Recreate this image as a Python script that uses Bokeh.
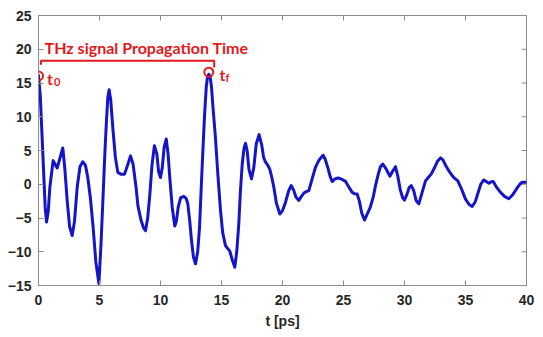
import math
from bokeh.plotting import figure
from bokeh.models import SingleIntervalTicker, Range1d
from bokeh.core.properties import value
from bokeh.embed import file_html
from bokeh.resources import INLINE

# ---- data ----
t_ps = [0.0, 0.15, 0.38, 0.55, 0.66, 0.8, 0.93, 1.2, 1.38, 1.53, 1.99, 2.15, 2.35, 2.55, 2.76,
        2.95, 3.17, 3.4, 3.63, 3.85, 4.04, 4.25, 4.48, 4.7, 4.95, 5.12, 5.3, 5.45, 5.57, 5.68,
        5.79, 5.92, 6.09, 6.3, 6.5, 6.75, 7.05, 7.3, 7.54, 7.75, 8.0, 8.15, 8.4, 8.6, 8.77,
        8.95, 9.13, 9.3, 9.5, 9.7, 9.85, 10.0, 10.15, 10.3, 10.47, 10.62, 10.76, 10.96, 11.17,
        11.3, 11.45, 11.65, 11.91, 12.1, 12.24, 12.4, 12.54, 12.7, 12.87, 13.05, 13.2, 13.35,
        13.5, 13.62, 13.75, 13.86, 13.96, 14.07, 14.18, 14.32, 14.5, 14.7, 14.92, 15.1, 15.33,
        15.5, 15.68, 15.9, 16.09, 16.25, 16.42, 16.55, 16.7, 16.85, 16.97, 17.1, 17.25, 17.46,
        17.65, 17.85, 18.08, 18.3, 18.45, 18.6, 18.8, 18.96, 19.1, 19.29, 19.5, 19.78, 20.0,
        20.25, 20.5, 20.71, 20.9, 21.1, 21.34, 21.55, 21.75, 21.95, 22.16, 22.4, 22.7, 23.0,
        23.33, 23.5, 23.71, 23.9, 24.07, 24.3, 24.54, 24.85, 25.16, 25.4, 25.71, 25.9, 26.12,
        26.3, 26.5, 26.72, 26.95, 27.2, 27.45, 27.6, 27.85, 28.03, 28.22, 28.45, 28.8, 29.05,
        29.26, 29.45, 29.67, 29.85, 30.0, 30.2, 30.38, 30.55, 30.75, 30.95, 31.17, 31.4, 31.72,
        32.0, 32.19, 32.45, 32.7, 32.95, 33.15, 33.4, 33.63, 33.9, 34.1, 34.37, 34.65, 35.0,
        35.3, 35.55, 35.8, 36.0, 36.25, 36.5, 36.7, 36.91, 37.1, 37.27, 37.5, 37.87, 38.2,
        38.55, 38.85, 39.18, 39.45, 39.65, 40.0]
signal = [16.1, 13.0, 3.5, -3.5, -5.6, -4.0, -0.45, 3.5, 2.9, 2.4, 5.37, 2.5, -2.4, -6.3, -7.6,
          -5.5, -0.45, 2.6, 3.34, 2.8, 1.0, -2.0, -6.4, -11.5, -14.7, -9.0, -1.45, 5.0, 9.4, 12.8,
          14.0, 12.5, 8.4, 4.0, 1.76, 1.5, 1.5, 2.8, 4.2, 3.0, -0.5, -3.2, -5.3, -6.4, -6.9,
          -5.0, -1.45, 2.8, 5.7, 4.5, 1.8, 1.0, 2.5, 5.5, 6.7, 4.5, 1.0, -3.4, -6.2,
          -5.5, -3.4, -2.0, -1.8, -2.1, -2.9, -5.5, -8.3, -10.8, -11.8, -10.0, -6.4, 0.0,
          6.0, 10.5, 14.4, 16.0, 16.3, 15.9, 14.4, 11.0, 7.0, 1.5, -3.9, -7.2, -9.1,
          -9.5, -9.9, -11.3, -12.3, -10.0, -5.8, -1.0, 3.0, 5.4, 6.05, 5.0, 2.2, 0.8,
          2.5, 6.0, 7.35, 5.8, 4.0, 3.3, 2.8, 2.2, 1.2, -0.45, -2.8, -4.4, -3.9,
          -2.65, -1.0, -0.2, -0.8, -1.9, -2.4, -1.8, -1.3, -1.1, -0.95, 0.6, 2.5, 3.6,
          4.3, 3.7, 2.5, 1.2, 0.4, 0.8, 0.93, 0.75, 0.43, -0.3, -1.2, -1.4, -1.45,
          -2.5, -4.3, -5.3, -4.4, -3.4, -1.8, -0.4, 1.5, 2.6, 3.0, 2.4, 1.2, 2.0,
          2.6, 1.2, -0.95, -2.0, -2.35, -1.5, -0.5, -0.2, -0.9, -2.4, -2.9, -1.5, 0.5,
          1.1, 1.5, 2.4, 3.4, 3.9, 3.6, 2.7, 2.0, 1.3, 0.9, 0.5, -0.6, -2.2,
          -3.0, -3.3, -2.6, -1.45, 0.0, 0.63, 0.4, 0.15, 0.35, 0.4, -0.3, -1.2, -1.8,
          -2.15, -1.6, -0.7, 0.0, 0.3, 0.3]

x_ticks = [0, 5, 10, 15, 20, 25, 30, 35, 40]
y_ticks = [-15, -10, -5, 0, 5, 10, 15, 20, 25]
x_label = "t [ps]"
x_min, x_max = 0, 40
y_min, y_max = -15, 25

marker_t = [0.0, 13.96]
marker_y = [16.05, 16.6]
bracket_t = [0.2, 0.2, 14.4, 14.4]
bracket_y = [17.7, 18.3, 18.3, 17.3]
title_text = "THz signal Propagation Time"
title_t = 0.5
title_y = 20.2
t_main_labels = ["t", "t"]
t_main_x = [0.7, 14.84]
t_main_y = [15.7, 16.3]
t_sub_labels = ["0", "f"]
t_sub_x = [1.27, 15.32]
t_sub_y = [15.2, 15.8]

RED = "#e3191c"
BLUE = "#1414c8"
GREY = "#8c8c8c"
TXT = "#262626"

p = figure(width=543, height=337, output_backend="svg", toolbar_location=None,
           x_range=Range1d(x_min, x_max), y_range=Range1d(y_min, y_max),
           min_border_left=38, min_border_right=17, min_border_top=15, min_border_bottom=52)
p.background_fill_color = "white"
p.border_fill_color = "white"
p.outline_line_color = GREY
p.outline_line_width = 1
p.xgrid.visible = False
p.ygrid.visible = False

for ax in (p.xaxis[0], p.yaxis[0]):
    ax.ticker = SingleIntervalTicker(interval=5, num_minor_ticks=0)
    ax.axis_line_color = GREY
    ax.major_tick_line_color = GREY
    ax.major_tick_in = 5
    ax.major_tick_out = 0
    ax.minor_tick_line_color = None
    ax.major_label_text_font = "Liberation Sans"
    ax.major_label_text_font_style = "bold"
    ax.major_label_text_font_size = "14px"
    ax.major_label_text_color = TXT
    ax.axis_label_text_font = "Liberation Sans"
    ax.axis_label_text_font_style = "bold"
    ax.axis_label_text_font_size = "14px"
    ax.axis_label_text_color = TXT

p.xaxis.major_label_standoff = 9
p.yaxis.major_label_standoff = 7
p.xaxis.axis_label = x_label
p.xaxis.axis_label_standoff = 5

# mirrored inward ticks on top and right borders (MATLAB box style)
p.scatter(x_ticks, [y_max] * len(x_ticks), marker="dash", size=10, angle=math.pi / 2,
          line_color=GREY, line_width=1)
p.scatter([x_max] * len(y_ticks), y_ticks, marker="dash", size=10,
          line_color=GREY, line_width=1)

p.line(t_ps, signal, line_color=BLUE, line_width=3, line_join="round", line_cap="round")

p.line(bracket_t, bracket_y, line_color=RED, line_width=2)
p.scatter(marker_t, marker_y, marker="circle", size=9, fill_color=None,
          line_color=RED, line_width=2)
p.text(x=[title_t], y=[title_y], text=[title_text], text_color=RED,
       text_font=value("Lato"), text_font_style="bold", text_font_size="16px",
       text_baseline="alphabetic", text_align="left")
p.text(x=t_main_x, y=t_main_y, text=t_main_labels, text_color=RED,
       text_font=value("Lato"), text_font_style="bold", text_font_size="16px",
       text_baseline="alphabetic", text_align="left")
p.text(x=t_sub_x, y=t_sub_y, text=t_sub_labels, text_color=RED,
       text_font=value("Lato"), text_font_style="bold", text_font_size="11px",
       text_baseline="alphabetic", text_align="left")

open("out.html", "w").write(file_html(p, INLINE))
